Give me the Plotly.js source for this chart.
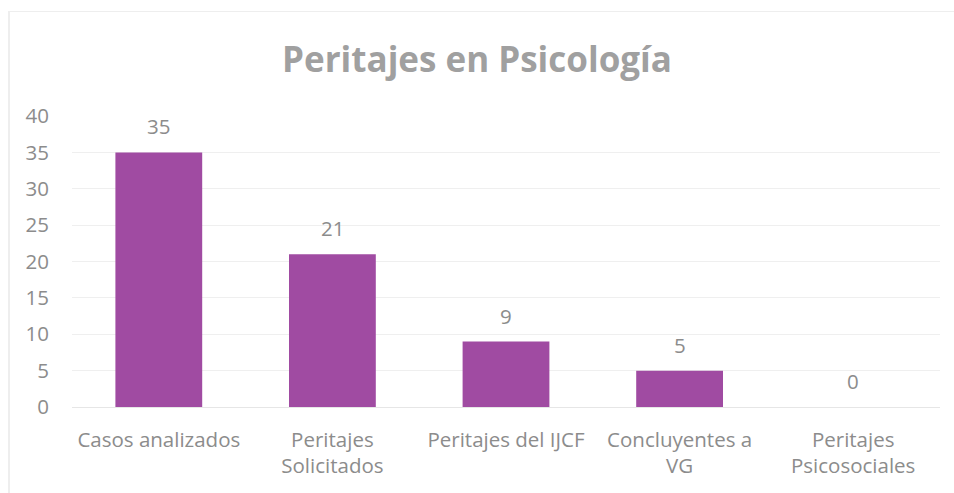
<!DOCTYPE html>
<html>
<head>
<meta charset="utf-8">
<script src="https://cdn.plot.ly/plotly-3.0.1.min.js"></script>
<style>
  html, body { margin: 0; padding: 0; background: #fff; }
  #wrap { position: relative; width: 954px; height: 493px; overflow: hidden; }
  #chart { position: absolute; left: 0; top: 0; width: 954px; height: 493px; }
  #frame { position: absolute; left: 8px; top: 11px; width: 960px; height: 500px;
           border-left: 2px solid #eeeeee; border-top: 1px solid #eeeeee; pointer-events: none; }
</style>
</head>
<body>
<div id="wrap">
  <div id="chart"></div>
  <div id="frame"></div>
</div>
<script>
const categories = [
  "Casos analizados",
  "Peritajes<br>Solicitados",
  "Peritajes del IJCF",
  "Concluyentes a<br>VG",
  "Peritajes<br>Psicosociales"
];
const values = [35, 21, 9, 5, 0];
const yTicks = [0, 5, 10, 15, 20, 25, 30, 35, 40];

const textColor = "#8c8c8c";
const fontFamily = "'Open Sans', Lato, sans-serif";
const labelSize = 20.5;

const trace = {
  type: "bar",
  x: categories,
  y: values,
  marker: { color: "#a04ba2", line: { width: 0 } },
  hoverinfo: "x+y"
};

const valueLabels = categories.map((c, i) => ({
  x: c,
  y: values[i],
  xref: "x",
  yref: "y",
  text: String(values[i]),
  showarrow: false,
  yanchor: "bottom",
  yshift: 10,
  font: { family: fontFamily, size: labelSize, color: textColor }
}));

const layout = {
  width: 954,
  height: 493,
  margin: { l: 72, r: 14, t: 116, b: 86 },
  paper_bgcolor: "rgba(0,0,0,0)",
  plot_bgcolor: "rgba(0,0,0,0)",
  showlegend: false,
  bargap: 0.5,
  annotations: valueLabels,
  title: {
    text: "<b>Peritajes en Psicología</b>",
    font: { family: fontFamily, size: 35, color: "#a0a0a0" },
    x: 0.5,
    xanchor: "center",
    y: 0.878,
    yanchor: "middle"
  },
  xaxis: {
    type: "category",
    showgrid: false,
    showline: true,
    linecolor: "#e6e6e6",
    linewidth: 1,
    ticks: "",
    tickfont: { family: fontFamily, size: labelSize, color: textColor },
    ticklabelstandoff: 14
  },
  yaxis: {
    range: [0, 40],
    tickvals: yTicks,
    ticktext: yTicks.map(String),
    showgrid: true,
    gridcolor: "#efefef",
    gridwidth: 1,
    zeroline: false,
    showline: false,
    ticks: "",
    ticklabelstandoff: 22,
    tickfont: { family: fontFamily, size: labelSize, color: textColor }
  }
};

Plotly.newPlot("chart", [trace], layout, { displayModeBar: false, staticPlot: true });
</script>
</body>
</html>
